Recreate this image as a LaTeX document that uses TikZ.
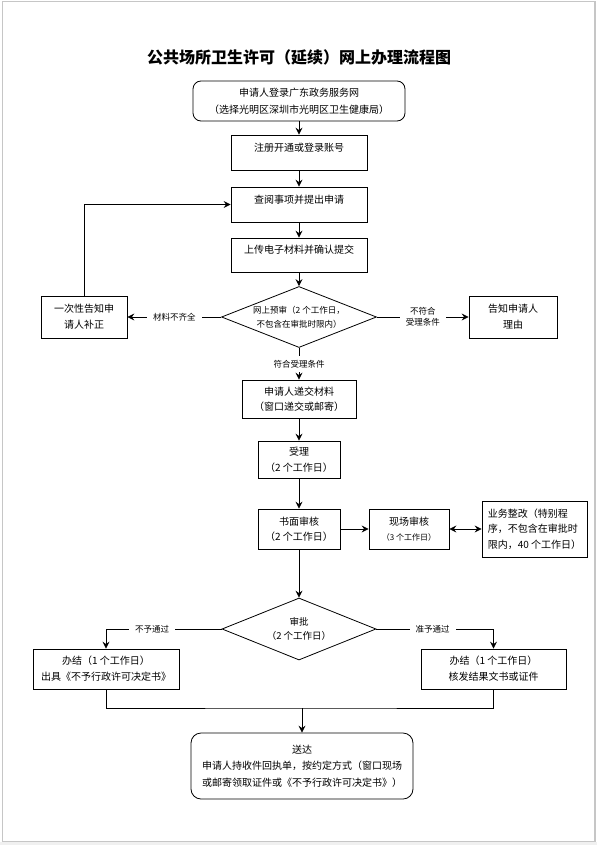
\documentclass[tikz,border=0pt]{standalone}
\usepackage{fontspec}
\setmainfont{Noto Sans CJK SC}
\usetikzlibrary{arrows.meta,shapes.geometric}

\begin{document}
\begin{tikzpicture}[
  x=1pt, y=-1pt,
  every node/.style={inner sep=0pt, align=center, font=\fontsize{10}{16}\selectfont},
  box/.style={rectangle, draw, line width=0.8pt},
  rbox/.style={box, rounded corners=9pt},
  dia/.style={diamond, draw, line width=0.8pt},
  small/.style={font=\fontsize{8.5}{14}\selectfont},
  lbl/.style={fill=white, inner xsep=6pt, inner ysep=4pt, font=\fontsize{8.5}{11}\selectfont},
  up/.style={text height=8.8pt, text depth=11pt},
  conn/.style={line width=0.8pt},
  arrow/.style={conn, -{Stealth[length=7pt,width=7pt,inset=2.5pt]}},
  dblarrow/.style={conn, {Stealth[length=7pt,width=7pt,inset=2.5pt]}-{Stealth[length=7pt,width=7pt,inset=2.5pt]}}
]
  \useasboundingbox (0,0) rectangle (597,845);
  \fill[gray!12] (0,842) rectangle (597,845);
  \draw[gray!45, line width=1.3pt] (2.5,1.5) rectangle (595,841.5);

  \node[font=\fontsize{16}{20}\selectfont\bfseries] (title) at (299,57) {公共场所卫生许可（延续）网上办理流程图};
  \node[rbox, rounded corners=8pt, minimum width=212pt, minimum height=40pt, font=\fontsize{10}{17}\selectfont] (login) at (299,101) {申请人登录广东政务服务网\\（选择光明区深圳市光明区卫生健康局）};
  \node[box, up, minimum width=136pt, minimum height=35pt] (reg) at (299,152.5) {注册开通或登录账号};
  \node[box, up, minimum width=136pt, minimum height=35pt] (apply) at (299,204.5) {查阅事项并提出申请};
  \node[box, up, minimum width=136pt, minimum height=34pt] (upload) at (299,255) {上传电子材料并确认提交};
  \node[dia, minimum width=155pt, minimum height=61pt,
        label={[small]center:{网上预审（2 个工作日，\\不包含在审批时限内）}}] (pre) at (299,317) {};
  \node[box, minimum width=86pt, minimum height=42pt] (notice) at (84,317) {一次性告知申\\请人补正};
  \node[box, minimum width=88pt, minimum height=42pt] (reason) at (513,317) {告知申请人\\理由};
  \node[box, minimum width=114pt, minimum height=38pt, font=\fontsize{10}{15}\selectfont] (submit) at (299,399) {申请人递交材料\\（窗口递交或邮寄）};
  \node[box, minimum width=82pt, minimum height=37pt] (accept) at (299,459.5) {受理\\（2 个工作日）};
  \node[box, minimum width=82pt, minimum height=40pt, font=\fontsize{10}{14.5}\selectfont] (paper) at (299,529) {书面审核\\（2 个工作日）};
  \node[box, minimum width=80pt, minimum height=40pt, font=\fontsize{10}{14.5}\selectfont] (site) at (409,529) {现场审核\\{\fontsize{8}{14.5}\selectfont（3 个工作日）}};
  \node[box, align=left, minimum width=105pt, minimum height=56pt, font=\fontsize{10}{15.5}\selectfont] (rectify) at (534.5,529) {业务整改（特别程\\序，不包含在审批时\\限内，40 个工作日）};
  \node[dia, minimum width=154pt, minimum height=62pt,
        label={[font=\fontsize{9.5}{14}\selectfont]center:{审批\\（2 个工作日）}}] (approve) at (299,629) {};
  \node[box, minimum width=146pt, minimum height=40pt] (refuse) at (106,669) {办结（1 个工作日）\\出具《不予行政许可决定书》};
  \node[box, minimum width=145pt, minimum height=40pt] (grant) at (493.5,669) {办结（1 个工作日）\\核发结果文书或证件};
  \node[rbox, rounded corners=10pt, minimum width=222pt, minimum height=66pt, font=\fontsize{10}{16.5}\selectfont] (deliver) at (302,766) {送达\\申请人持收件回执单，按约定方式（窗口现场\\或邮寄领取证件或《不予行政许可决定书》）};
  \coordinate (join) at (302,708);

  \draw[arrow] (login) -- (reg);
  \draw[arrow] (reg) -- (apply);
  \draw[arrow] (apply) -- (upload);
  \draw[arrow] (upload) -- (pre);
  \draw[arrow] (pre) -- node[lbl]{符合受理条件} (submit);
  \draw[arrow] (pre) -- node[lbl]{材料不齐全} (notice);
  \draw[arrow] (pre) -- node[lbl]{不符合\\受理条件} (reason);
  \draw[arrow] (notice) |- (apply);
  \draw[arrow] (submit) -- (accept);
  \draw[arrow] (accept) -- (paper);
  \draw[arrow] (paper) -- (site);
  \draw[dblarrow] (site) -- (rectify);
  \draw[arrow] (paper) -- (approve);
  \draw[arrow] (approve) -| node[lbl, pos=0.3]{不予通过} (refuse);
  \draw[arrow] (approve) -| node[lbl, pos=0.24]{准予通过} (grant);
  \draw[conn] (refuse) |- (join) -| (grant);
  \draw[arrow] (join) -- (deliver);
\end{tikzpicture}
\end{document}
